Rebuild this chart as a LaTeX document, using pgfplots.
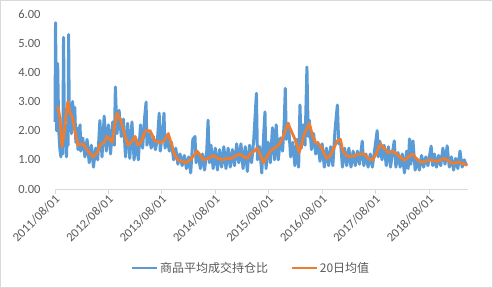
\documentclass[border=0pt]{standalone}
\usepackage{pgfplots}
\pgfplotsset{compat=1.18}
\usepackage{fontspec}
\setmainfont{Carlito}
\newfontfamily\cjk{Noto Sans CJK SC}
\definecolor{xlblue}{HTML}{5B9BD5}
\definecolor{xlorange}{HTML}{ED7D31}
\definecolor{txt}{HTML}{595959}
\definecolor{axl}{HTML}{D9D9D9}
\begin{document}
\begin{tikzpicture}
\begin{axis}[
  scale only axis, width=413pt, height=175pt,
  xmin=0, xmax=7.73, ymin=0, ymax=6,
  axis x line*=bottom, axis y line*=left,
  x axis line style={draw=axl, line width=0.8pt},
  y axis line style={draw=none},
  xtick={0,1,2,3,4,5,6,7},
  xticklabels={2011/08/01,2012/08/01,2013/08/01,2014/08/01,2015/08/01,2016/08/01,2017/08/01,2018/08/01},
  ytick={0,1,2,3,4,5,6},
  tick align=outside, major tick length=5pt,
  xtick style={draw=axl, line width=0.8pt},
  ytick style={draw=none},
  /pgf/number format/assume math mode=true,
  yticklabel style={/pgf/number format/fixed, /pgf/number format/fixed zerofill, /pgf/number format/precision=2},
  ticklabel style={font=\fontsize{12.5}{14}\selectfont, text=txt},
  yticklabel style={xshift=-6pt},
  xticklabel style={rotate=45, anchor=east, xshift=3pt, yshift=-4pt},
  clip=false,
  legend style={at={(axis description cs:0.474,-0.451)}, anchor=center, draw=none, fill=none,
    font=\cjk\fontsize{12}{14}\selectfont, text=txt, legend columns=2,
    /tikz/every even column/.append style={column sep=20pt}},
  legend image code/.code={\draw[#1, line width=2.8pt] (0pt,0pt) -- (25pt,0pt);},
]
\addplot[xlblue, line width=3pt, line join=round] coordinates {
(0.00,2.3) (0.01,5.7) (0.03,2.0) (0.05,4.3) (0.07,2.0) (0.09,1.4) (0.11,1.1) (0.13,1.6) (0.145,1.2) (0.16,5.2)
(0.18,1.5) (0.20,2.2) (0.215,1.1) (0.23,2.0) (0.245,1.5) (0.255,5.3) (0.27,2.0) (0.29,2.9) (0.31,1.9) (0.33,3.0)
(0.35,2.1) (0.37,2.8) (0.39,1.6) (0.41,2.1) (0.43,1.35) (0.45,2.0) (0.47,2.2) (0.48,1.3) (0.52,1.75) (0.56,1.1)
(0.60,1.7) (0.64,0.9) (0.68,1.5) (0.72,0.75) (0.76,1.4) (0.80,1.0) (0.84,2.35) (0.88,1.1) (0.92,2.5) (0.96,1.3)
(1.00,2.2) (1.04,1.2) (1.08,2.3) (1.11,1.5) (1.13,3.5) (1.16,1.9) (1.20,2.7) (1.24,1.8) (1.28,2.4) (1.32,1.1)
(1.36,2.25) (1.40,1.05) (1.44,2.3) (1.48,1.0) (1.52,1.7) (1.56,1.0) (1.60,2.2) (1.64,1.4) (1.68,2.5) (1.705,2.98)
(1.72,1.5) (1.76,1.9) (1.80,1.4) (1.84,1.8) (1.88,1.35) (1.92,1.75) (1.95,2.6) (1.97,1.3) (2.01,1.9) (2.04,2.6)
(2.06,1.4) (2.10,1.75) (2.14,1.3) (2.18,1.6) (2.22,1.0) (2.26,1.4) (2.30,0.85) (2.34,1.2) (2.38,0.8) (2.42,1.15)
(2.46,0.7) (2.50,1.1) (2.54,0.55) (2.58,1.7) (2.62,1.8) (2.64,0.9) (2.68,1.25) (2.72,0.7) (2.76,1.2) (2.80,0.65)
(2.84,1.3) (2.865,2.36) (2.89,0.9) (2.92,1.5) (2.96,0.7) (3.00,1.4) (3.04,0.65) (3.08,1.35) (3.12,0.75) (3.16,1.45)
(3.20,0.7) (3.24,1.4) (3.28,0.75) (3.32,1.35) (3.36,0.8) (3.40,1.55) (3.44,0.9) (3.48,1.55) (3.52,0.7) (3.56,1.45)
(3.60,0.6) (3.64,1.5) (3.68,0.9) (3.72,1.7) (3.77,3.28) (3.79,1.0) (3.83,1.45) (3.87,0.55) (3.91,2.0) (3.93,2.64)
(3.95,0.7) (3.99,1.6) (4.03,0.9) (4.07,2.1) (4.11,1.0) (4.14,2.2) (4.18,1.0) (4.22,1.75) (4.26,1.3) (4.29,2.3)
(4.31,3.45) (4.33,1.7) (4.37,2.25) (4.41,1.1) (4.45,1.6) (4.49,0.8) (4.53,1.7) (4.56,0.75) (4.585,2.88) (4.61,1.4)
(4.65,2.2) (4.68,1.5) (4.715,4.18) (4.74,1.8) (4.76,2.36) (4.80,1.35) (4.84,1.9) (4.88,1.2) (4.92,1.6) (4.96,0.95)
(5.00,1.55) (5.04,0.75) (5.08,1.4) (5.12,0.8) (5.16,1.45) (5.20,0.8) (5.24,2.0) (5.285,2.88) (5.31,1.55) (5.34,1.7)
(5.38,0.75) (5.42,1.4) (5.46,0.8) (5.50,1.4) (5.54,0.75) (5.58,1.3) (5.62,0.8) (5.66,1.3) (5.70,0.85) (5.75,1.64)
(5.78,0.8) (5.82,1.2) (5.86,0.75) (5.90,1.2) (5.94,0.75) (5.98,1.3) (6.03,2.0) (6.05,1.1) (6.08,1.64) (6.12,1.0)
(6.16,1.5) (6.20,0.8) (6.24,1.45) (6.28,0.75) (6.32,1.3) (6.35,1.65) (6.38,0.75) (6.42,1.25) (6.46,0.75) (6.50,1.2)
(6.54,0.55) (6.58,1.3) (6.61,0.7) (6.635,1.72) (6.66,0.85) (6.70,1.65) (6.74,0.65) (6.78,1.0) (6.82,0.65) (6.86,1.15)
(6.90,0.75) (6.94,1.1) (6.98,0.8) (7.04,1.47) (7.07,0.8) (7.10,1.2) (7.14,0.75) (7.18,1.15) (7.22,0.8) (7.26,1.4)
(7.30,0.85) (7.34,1.48) (7.38,0.75) (7.42,1.1) (7.46,0.65) (7.50,1.05) (7.54,0.7) (7.58,1.3) (7.62,0.75) (7.66,1.0)
(7.70,0.8)
};
\addlegendentry{商品平均成交持仓比}
\addplot[xlorange, line width=2.8pt, line join=round] coordinates {
(0.056,2.85) (0.094,2.4) (0.13,1.45) (0.17,1.9) (0.21,2.6) (0.24,3.0) (0.28,2.6) (0.32,2.5) (0.37,2.0) (0.43,1.5)
(0.52,1.55) (0.62,1.3) (0.71,1.1) (0.79,1.25) (0.84,1.5) (0.92,1.6) (0.97,1.8) (1.03,1.7) (1.07,1.6) (1.12,2.2)
(1.16,2.6) (1.22,2.4) (1.27,2.1) (1.33,1.7) (1.37,1.5) (1.44,1.65) (1.50,1.8) (1.55,1.5) (1.61,1.6) (1.69,2.0)
(1.78,2.0) (1.87,1.65) (1.97,1.6) (2.04,1.65) (2.12,1.9) (2.17,1.6) (2.23,1.2) (2.30,1.0) (2.38,0.95) (2.45,0.9)
(2.53,1.0) (2.60,1.15) (2.66,1.3) (2.72,1.15) (2.77,1.0) (2.87,1.05) (2.96,1.15) (3.05,1.05) (3.13,1.0) (3.22,1.05)
(3.31,1.05) (3.39,1.15) (3.46,1.2) (3.54,1.1) (3.60,1.05) (3.65,1.2) (3.73,1.3) (3.78,1.4) (3.84,1.2) (3.90,0.9)
(3.95,1.05) (4.03,1.3) (4.10,1.4) (4.18,1.5) (4.25,1.7) (4.31,2.0) (4.36,2.25) (4.42,2.0) (4.48,1.75) (4.53,1.5)
(4.57,1.25) (4.61,1.5) (4.66,1.85) (4.72,2.1) (4.76,2.25) (4.81,1.9) (4.87,1.6) (4.93,1.55) (4.98,1.45) (5.04,1.2)
(5.09,1.05) (5.15,1.15) (5.22,1.4) (5.28,1.65) (5.34,1.7) (5.39,1.3) (5.45,1.15) (5.52,1.1) (5.62,1.15) (5.71,1.2)
(5.79,1.2) (5.86,1.05) (5.94,0.98) (6.01,1.2) (6.09,1.55) (6.16,1.4) (6.24,1.25) (6.31,1.3) (6.39,1.2) (6.46,1.1)
(6.54,0.98) (6.61,1.1) (6.69,1.2) (6.76,1.05) (6.84,0.92) (6.93,0.95) (7.02,1.0) (7.12,0.95) (7.21,0.98) (7.28,1.05)
(7.36,0.98) (7.43,0.88) (7.51,0.9) (7.58,0.92) (7.66,0.85) (7.72,0.82)
};
\addlegendentry{20日均值}
\end{axis}
\draw[axl, line width=0.8pt] (-54.6pt,-98.6pt) rectangle (437.6pt,188.6pt);
\end{tikzpicture}
\end{document}
